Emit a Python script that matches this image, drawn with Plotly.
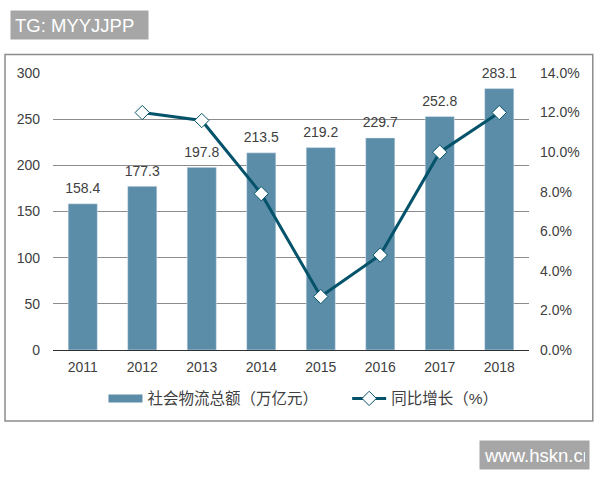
import plotly.graph_objects as go

# Values
years = ["2011", "2012", "2013", "2014", "2015", "2016", "2017", "2018"]
total = [158.4, 177.3, 197.8, 213.5, 219.2, 229.7, 252.8, 283.1]
growth = [None, 12.0, 11.6, 7.9, 2.7, 4.8, 10.0, 12.0]
total_ticks = [0, 50, 100, 150, 200, 250, 300]
growth_ticks = [0, 2, 4, 6, 8, 10, 12, 14]
growth_labels = ["0.0%", "2.0%", "4.0%", "6.0%", "8.0%", "10.0%", "12.0%", "14.0%"]
total_name = "社会物流总额（万亿元）"
growth_name = "同比增长（%）"

bar_color = "#5c8da8"
line_color = "#04536a"
text_color = "#404040"
box_color = "#a6a6a6"
font_name = "Liberation Sans, Noto Sans CJK SC"

fig = go.Figure()

fig.add_trace(go.Bar(
    x=years,
    y=total,
    marker_color=bar_color,
    showlegend=False,
))

# Legend-only entry, a bar swatch in plotly is too narrow
fig.add_trace(go.Scatter(
    x=[None],
    y=[None],
    mode="lines",
    name=total_name,
    line=dict(color=bar_color, width=8),
))

# Value labels, the invisible markers push the text up off the bars
fig.add_trace(go.Scatter(
    x=years,
    y=total,
    mode="markers+text",
    text=[f"{v:.1f}" for v in total],
    textposition="top center",
    textfont=dict(size=14, color=text_color),
    marker=dict(size=10, color="rgba(0,0,0,0)"),
    cliponaxis=False,
    showlegend=False,
))

# Growth line on the right axis
fig.add_trace(go.Scatter(
    x=years,
    y=growth,
    name=growth_name,
    yaxis="y2",
    legend="legend2",
    mode="lines+markers",
    cliponaxis=False,
    line=dict(color=line_color, width=3),
    marker=dict(symbol="diamond", size=11, color="white", line=dict(color=line_color, width=1)),
))

fig.update_layout(
    width=600,
    height=480,
    margin=dict(l=53, r=71, t=72.5, b=130),
    paper_bgcolor="white",
    plot_bgcolor="white",
    font=dict(family=font_name, size=14, color=text_color),
    bargap=0.51,
    xaxis=dict(
        type="category",
        range=[-0.5, 7.5],
        showgrid=False,
        showline=True,
        linecolor="#303030",
        linewidth=1,
        ticks="",
        ticklabelstandoff=4,
    ),
    yaxis=dict(
        range=[0, 300],
        tickvals=total_ticks,
        showgrid=True,
        gridcolor="#8c8c8c",
        gridwidth=1,
        zeroline=False,
        ticks="",
        ticklabelstandoff=12,
    ),
    yaxis2=dict(
        overlaying="y",
        side="right",
        range=[0, 14],
        tickvals=growth_ticks,
        ticktext=growth_labels,
        showgrid=False,
        zeroline=False,
        ticks="",
        ticklabelstandoff=10,
    ),
    legend=dict(
        orientation="h", x=0.106, xanchor="left", y=-0.115, yanchor="top",
        font=dict(size=15.5, color=text_color), itemwidth=34,
    ),
    legend2=dict(
        orientation="h", x=0.618, xanchor="left", y=-0.115, yanchor="top",
        font=dict(size=15.5, color=text_color), itemwidth=34,
    ),
    shapes=[
        # outer chart frame
        dict(type="rect", xref="paper", yref="paper", x0=-0.1008, x1=1.134, y0=-0.256, y1=1.0667,
             line=dict(color="#8c8c8c", width=1.5), fillcolor="rgba(0,0,0,0)", layer="below"),
    ],
)

# Grey watermark boxes
fig.add_annotation(
    text="TG: MYYJJPP", xref="paper", yref="paper", x=-0.0903, y=1.1747,
    xanchor="left", yanchor="middle", showarrow=False, align="left", borderpad=4,
    font=dict(size=18.5, color="white"), bgcolor=box_color, width=129, height=20,
)
fig.add_annotation(
    text="www.hskn.cn", xref="paper", yref="paper", x=0.895, y=-0.378,
    xanchor="left", yanchor="middle", showarrow=False, align="left", borderpad=4,
    font=dict(size=18.5, color="white"), bgcolor=box_color, width=101, height=20,
)

# Drop the page body margin so the figure fills the window
fig.write_html(
    "out.html",
    config={"displayModeBar": False},
    post_script="document.body.style.margin = '0';",
)
